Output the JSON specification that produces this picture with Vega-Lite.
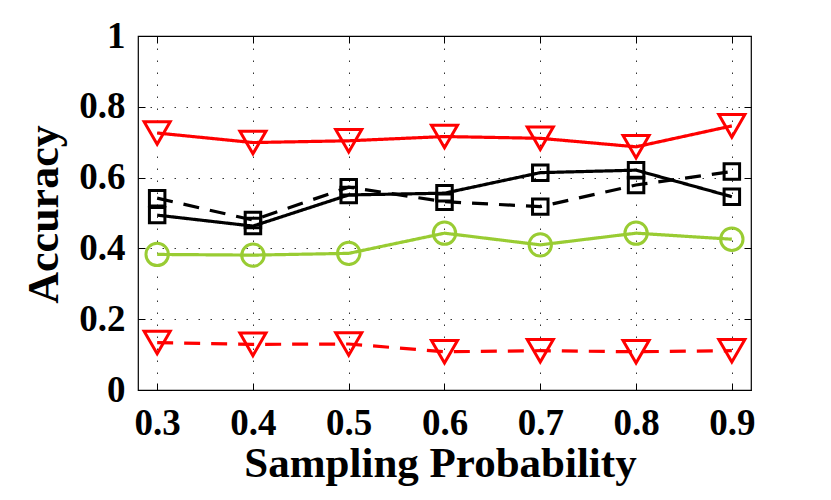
{
  "$schema": "https://vega.github.io/schema/vega-lite/v6.json",
  "width": 613,
  "height": 354,
  "autosize": {"type": "none"},
  "padding": {"left": 138, "top": 36, "right": 80, "bottom": 110},
  "background": "white",
  "config": {
    "view": {"stroke": "black", "strokeWidth": 1.2},
    "axis": {
      "labelFont": "Liberation Serif",
      "labelFontWeight": "bold",
      "labelColor": "black",
      "titleFont": "Liberation Serif",
      "titleFontWeight": "bold",
      "titleColor": "black",
      "tickColor": "black",
      "tickWidth": 1,
      "domain": false
    }
  },
  "data": {
    "values": [
      {"p": 0.3, "s": "A", "acc": 0.726}, {"p": 0.4, "s": "A", "acc": 0.699}, {"p": 0.5, "s": "A", "acc": 0.704}, {"p": 0.6, "s": "A", "acc": 0.716}, {"p": 0.7, "s": "A", "acc": 0.711}, {"p": 0.8, "s": "A", "acc": 0.687}, {"p": 0.9, "s": "A", "acc": 0.746},
      {"p": 0.3, "s": "B", "acc": 0.494}, {"p": 0.4, "s": "B", "acc": 0.463}, {"p": 0.5, "s": "B", "acc": 0.551}, {"p": 0.6, "s": "B", "acc": 0.556}, {"p": 0.7, "s": "B", "acc": 0.614}, {"p": 0.8, "s": "B", "acc": 0.621}, {"p": 0.9, "s": "B", "acc": 0.546},
      {"p": 0.3, "s": "C", "acc": 0.542}, {"p": 0.4, "s": "C", "acc": 0.480}, {"p": 0.5, "s": "C", "acc": 0.573}, {"p": 0.6, "s": "C", "acc": 0.532}, {"p": 0.7, "s": "C", "acc": 0.518}, {"p": 0.8, "s": "C", "acc": 0.579}, {"p": 0.9, "s": "C", "acc": 0.617},
      {"p": 0.3, "s": "D", "acc": 0.383}, {"p": 0.4, "s": "D", "acc": 0.381}, {"p": 0.5, "s": "D", "acc": 0.386}, {"p": 0.6, "s": "D", "acc": 0.443}, {"p": 0.7, "s": "D", "acc": 0.410}, {"p": 0.8, "s": "D", "acc": 0.443}, {"p": 0.9, "s": "D", "acc": 0.426},
      {"p": 0.3, "s": "E", "acc": 0.134}, {"p": 0.4, "s": "E", "acc": 0.129}, {"p": 0.5, "s": "E", "acc": 0.130}, {"p": 0.6, "s": "E", "acc": 0.108}, {"p": 0.7, "s": "E", "acc": 0.111}, {"p": 0.8, "s": "E", "acc": 0.108}, {"p": 0.9, "s": "E", "acc": 0.111}
    ]
  },
  "resolve": {"axis": {"x": "independent", "y": "independent"}},
  "layer": [
    {
      "mark": {"type": "line", "strokeWidth": 3.2},
      "encoding": {
        "x": {
          "field": "p", "type": "quantitative",
          "scale": {"domain": [0.28, 0.92], "nice": false, "zero": false},
          "axis": {
            "orient": "bottom",
            "values": [0.3, 0.4, 0.5, 0.6, 0.7, 0.8, 0.9],
            "format": ".1f",
            "grid": true, "gridColor": "black", "gridDash": [1.5, 10.5], "gridWidth": 1, "gridOpacity": 0.8,
            "tickSize": -7,
            "labelFontSize": 37, "labelBaseline": "alphabetic", "labelPadding": 51,
            "title": "Sampling Probability", "titleFontSize": 43,
            "titleX": 302, "titleY": 86.7, "titleAlign": "center", "titleBaseline": "alphabetic", "titleAngle": 0
          }
        },
        "y": {
          "field": "acc", "type": "quantitative",
          "scale": {"domain": [0, 1], "nice": false},
          "axis": {
            "orient": "left",
            "values": [0, 0.2, 0.4, 0.6, 0.8, 1],
            "labelExpr": "datum.value == 0 ? '0' : datum.value == 1 ? '1' : format(datum.value, '.1f')",
            "grid": true, "gridColor": "black", "gridDash": [1.5, 10.5], "gridWidth": 1, "gridOpacity": 0.8,
            "tickSize": -7,
            "labelFontSize": 37, "labelPadding": 20,
            "title": "Accuracy", "titleFontSize": 44,
            "titleX": -81, "titleY": 178, "titleAlign": "center", "titleBaseline": "alphabetic", "titleAngle": -90
          }
        },
        "detail": {"field": "s"},
        "color": {
          "field": "s", "type": "nominal", "legend": null,
          "scale": {"domain": ["A", "B", "C", "D", "E"], "range": ["#ff0000", "#000000", "#000000", "#99cc33", "#ff0000"]}
        },
        "strokeDash": {
          "field": "s", "type": "nominal", "legend": null,
          "scale": {"domain": ["A", "B", "C", "D", "E"], "range": [[1, 0], [1, 0], [16, 11], [1, 0], [16, 11]]}
        }
      }
    },
    {
      "mark": {"type": "point", "filled": false, "strokeWidth": 3, "opacity": 1},
      "encoding": {
        "x": {
          "field": "p", "type": "quantitative",
          "scale": {"domain": [0.28, 0.92], "nice": false, "zero": false},
          "axis": {"orient": "top", "values": [0.3, 0.4, 0.5, 0.6, 0.7, 0.8, 0.9], "labels": false, "title": null, "grid": false, "tickSize": -7}
        },
        "y": {
          "field": "acc", "type": "quantitative",
          "scale": {"domain": [0, 1], "nice": false},
          "axis": {"orient": "right", "values": [0, 0.2, 0.4, 0.6, 0.8, 1], "labels": false, "title": null, "grid": false, "tickSize": -7}
        },
        "color": {
          "field": "s", "type": "nominal", "legend": null,
          "scale": {"domain": ["A", "B", "C", "D", "E"], "range": ["#ff0000", "#000000", "#000000", "#99cc33", "#ff0000"]}
        },
        "shape": {
          "field": "s", "type": "nominal", "legend": null,
          "scale": {"domain": ["A", "B", "C", "D", "E"], "range": ["triangle-down", "square", "square", "circle", "triangle-down"]}
        },
        "size": {
          "field": "s", "type": "nominal", "legend": null,
          "scale": {"type": "ordinal", "domain": ["A", "B", "C", "D", "E"], "range": [680, 240, 240, 500, 680]}
        }
      }
    }
  ]
}
